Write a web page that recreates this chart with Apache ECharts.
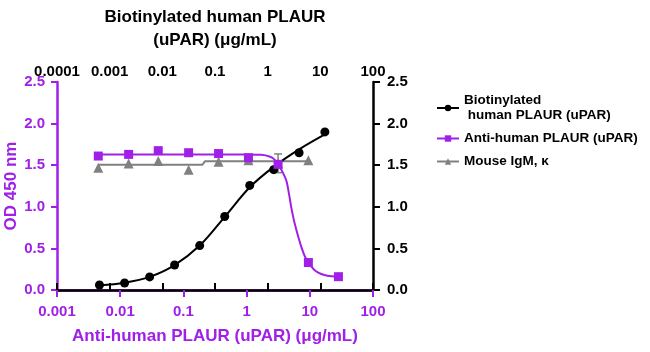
<!DOCTYPE html>
<html>
<head>
<meta charset="utf-8">
<script src="https://cdn.jsdelivr.net/npm/echarts@6/dist/echarts.min.js"></script>
<style>html,body{margin:0;padding:0;background:#fff}#c{width:650px;height:352px}</style>
</head>
<body>
<div id="c"></div>
<script>
// ---- data ----
const bottomTicks = ['0.001', '0.01', '0.1', '1', '10', '100'];
const topTicks = ['0.0001', '0.001', '0.01', '0.1', '1', '10', '100'];
const yTicks = ['0.0', '0.5', '1.0', '1.5', '2.0', '2.5'];

const seriesNames = ['Biotinylated\n human PLAUR (uPAR)', 'Anti-human PLAUR (uPAR)', 'Mouse IgM, \u03ba'];

// Biotinylated human PLAUR (top x axis, right y axis)
const bioX = [0.00064, 0.00192, 0.00574, 0.0171, 0.0512, 0.153, 0.457, 1.3, 3.95, 12.2];
const bioY = [0.06, 0.084, 0.157, 0.30, 0.534, 0.883, 1.257, 1.446, 1.65, 1.90];
const bioFitX = [0.00064, 0.00192, 0.00574, 0.0171, 0.0512, 0.153, 0.457, 1.3, 3.95, 12.2];
const bioFitY = [0.055, 0.088, 0.158, 0.30, 0.534, 0.88, 1.235, 1.48, 1.69, 1.87];

// Anti-human PLAUR (bottom x axis, left y axis)
const antiX = [0.0045, 0.0136, 0.040, 0.121, 0.36, 1.07, 3.15, 9.5, 28.4];
const antiY = [1.61, 1.63, 1.675, 1.65, 1.64, 1.59, 1.51, 0.33, 0.16];
const antiFitX = [0.0045, 0.1, 1.0, 1.7, 2.3, 2.75, 3.15, 3.7, 4.27, 4.7, 5.1, 5.6, 6.2, 6.8, 7.4, 8.4, 9.5, 11.5, 13.6, 17, 22, 28.4];
const antiFitY = [1.63, 1.63, 1.63, 1.625, 1.605, 1.57, 1.51, 1.42, 1.31, 1.15, 0.99, 0.84, 0.71, 0.60, 0.51, 0.40, 0.33, 0.25, 0.21, 0.18, 0.165, 0.16];

// Mouse IgM, kappa (bottom x axis, left y axis)
const igmX = [0.0045, 0.0136, 0.040, 0.121, 0.36, 1.07, 3.15, 9.5];
const igmY = [1.47, 1.52, 1.55, 1.445, 1.54, 1.56, 1.52, 1.56];
const igmFitX = [0.0045, 0.20, 0.22, 9.5];
const igmFitY = [1.505, 1.505, 1.548, 1.548];
const igmErrX = [3.15];
const igmErrLow = [1.41];
const igmErrHigh = [1.635];

// ---- chart ----
const MAG = '#A020E8';
const BLK = '#000000';
const GRY = '#808080';
const FONT = '"Liberation Sans", Arial, sans-serif';
const zip = (a, b) => a.map((v, i) => [v, b[i]]);

const chart = echarts.init(document.getElementById('c'), null, {renderer: 'canvas'});

const tickLabel = (color, size) => ({color: color, fontSize: size, fontWeight: 'bold', fontFamily: FONT});

chart.setOption({
  animation: false,
  backgroundColor: '#fff',
  grid: {left: 57, right: 277, top: 82, bottom: 62, containLabel: false},
  legend: {
    orient: 'vertical', left: 431, top: 88, itemGap: 8, itemWidth: 22, itemHeight: 8,
    textStyle: {fontSize: 13.5, fontWeight: 'bold', fontFamily: FONT, color: '#000', lineHeight: 15},
    data: [
      {name: seriesNames[0], itemStyle: {color: BLK}, lineStyle: {width: 2, opacity: 1, color: BLK}},
      {name: seriesNames[1], itemStyle: {color: MAG}, lineStyle: {width: 2, opacity: 1, color: MAG}},
      {name: seriesNames[2], itemStyle: {color: GRY}, lineStyle: {width: 2, opacity: 1, color: GRY}}
    ]
  },
  xAxis: [
    {
      type: 'log', logBase: 10, min: 0.001, max: 100, position: 'bottom',
      name: 'Anti-human PLAUR (uPAR) (\u03bcg/mL)', nameLocation: 'middle', nameGap: 38,
      nameTextStyle: {color: MAG, fontSize: 17, fontWeight: 'bold', fontFamily: FONT},
      axisLine: {lineStyle: {color: MAG, width: 2.5}},
      axisTick: {show: true, inside: false, length: 7, lineStyle: {color: MAG, width: 2}},
      minorTick: {show: false},
      splitLine: {show: false},
      axisLabel: Object.assign(tickLabel(MAG, 15), {margin: 14, showMinLabel: true, showMaxLabel: true, hideOverlap: false,
        formatter: v => bottomTicks[Math.round(Math.log10(v)) + 3]})
    },
    {
      type: 'log', logBase: 10, min: 0.0001, max: 100, position: 'top',
      name: 'Biotinylated human PLAUR\n(uPAR) (\u03bcg/mL)', nameLocation: 'middle', nameGap: 30,
      nameTextStyle: {color: BLK, fontSize: 17, fontWeight: 'bold', fontFamily: FONT, lineHeight: 23},
      axisLine: {lineStyle: {color: BLK, width: 2.5}},
      axisTick: {show: true, inside: false, length: 7, lineStyle: {color: BLK, width: 2}},
      minorTick: {show: false},
      splitLine: {show: false},
      axisLabel: Object.assign(tickLabel(BLK, 15), {margin: 3, showMinLabel: true, showMaxLabel: true, hideOverlap: false,
        formatter: v => topTicks[Math.round(Math.log10(v)) + 4]})
    }
  ],
  yAxis: [
    {
      type: 'value', min: 0, max: 2.5, interval: 0.5, position: 'left',
      name: 'OD 450 nm', nameLocation: 'middle', nameGap: 32, nameRotate: 90,
      nameTextStyle: {color: MAG, fontSize: 17, fontWeight: 'bold', fontFamily: FONT},
      axisLine: {show: true, lineStyle: {color: MAG, width: 2.5}},
      axisTick: {show: true, inside: false, length: 6, lineStyle: {color: MAG, width: 2}},
      splitLine: {show: false},
      axisLabel: Object.assign(tickLabel(MAG, 15), {margin: 12, formatter: v => yTicks[Math.round(v / 0.5)]})
    },
    {
      type: 'value', min: 0, max: 2.5, interval: 0.5, position: 'right',
      axisLine: {show: true, lineStyle: {color: BLK, width: 2.5}},
      axisTick: {show: true, inside: false, length: 7, lineStyle: {color: BLK, width: 2}},
      splitLine: {show: false},
      axisLabel: Object.assign(tickLabel(BLK, 15), {margin: 14, formatter: v => yTicks[Math.round(v / 0.5)]})
    }
  ],
  series: [
    {
      name: 'igmFit', type: 'line', xAxisIndex: 0, yAxisIndex: 0, data: zip(igmFitX, igmFitY),
      showSymbol: false, lineStyle: {color: GRY, width: 2}, z: 2, silent: true
    },
    {
      name: 'igmErr', type: 'custom', xAxisIndex: 0, yAxisIndex: 0,
      data: igmErrX.map((x, i) => [x, igmErrLow[i], igmErrHigh[i]]),
      encode: {x: 0, y: [1, 2]}, z: 3,
      renderItem: function (params, api) {
        const lo = api.coord([api.value(0), api.value(1)]);
        const hi = api.coord([api.value(0), api.value(2)]);
        const w = 4;
        const st = {stroke: GRY, lineWidth: 1.5};
        return {type: 'group', children: [
          {type: 'line', shape: {x1: lo[0], y1: lo[1], x2: hi[0], y2: hi[1]}, style: st},
          {type: 'line', shape: {x1: hi[0] - w, y1: hi[1], x2: hi[0] + w, y2: hi[1]}, style: st},
          {type: 'line', shape: {x1: lo[0] - w, y1: lo[1], x2: lo[0] + w, y2: lo[1]}, style: st}
        ]};
      }
    },
    {
      name: seriesNames[2], type: 'line', xAxisIndex: 0, yAxisIndex: 0, data: zip(igmX, igmY),
      symbol: 'triangle', symbolSize: 10, itemStyle: {color: GRY},
      lineStyle: {width: 0, opacity: 0, color: GRY}, z: 4
    },
    {
      name: 'bioFit', type: 'line', xAxisIndex: 1, yAxisIndex: 1, data: zip(bioFitX, bioFitY),
      showSymbol: false, smooth: 0.35, lineStyle: {color: BLK, width: 2}, z: 5, silent: true
    },
    {
      name: seriesNames[0], type: 'line', xAxisIndex: 1, yAxisIndex: 1, data: zip(bioX, bioY),
      symbol: 'circle', symbolSize: 9, itemStyle: {color: BLK},
      lineStyle: {width: 0, opacity: 0, color: BLK}, z: 6
    },
    {
      name: 'antiFit', type: 'line', xAxisIndex: 0, yAxisIndex: 0, data: zip(antiFitX, antiFitY),
      showSymbol: false, smooth: 0.3, lineStyle: {color: MAG, width: 2}, z: 7, silent: true
    },
    {
      name: seriesNames[1], type: 'line', xAxisIndex: 0, yAxisIndex: 0, data: zip(antiX, antiY),
      symbol: 'rect', symbolSize: 9, itemStyle: {color: MAG},
      lineStyle: {width: 0, opacity: 0, color: MAG}, z: 8
    }
  ]
});
</script>
</body>
</html>
